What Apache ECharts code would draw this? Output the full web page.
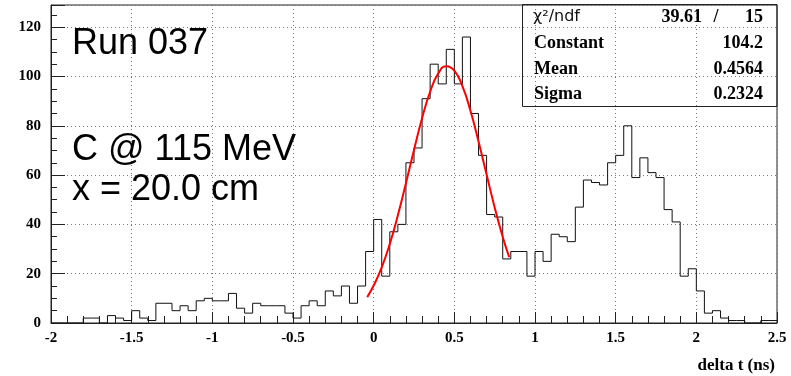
<!DOCTYPE html>
<html>
<head>
<meta charset="utf-8">
<script src="https://cdn.jsdelivr.net/npm/echarts@6/dist/echarts.min.js"></script>
<style>
  html, body { margin: 0; padding: 0; background: #fff; }
  #chart { width: 791px; height: 376px; }
</style>
</head>
<body>
<div id="chart"></div>
<script>
// histogram definition: 90 bins of 0.05 ns from -2 to 2.5
const histMin = -2;
const histMax = 2.5;
const binWidth = 0.05;

// counts per bin (left to right)
const counts = [
  0, 0, 0, 0, 2, 2, 0, 3, 2, 1,
  5, 2, 1, 8, 8, 5, 7, 5, 9, 10,
  9, 9, 12, 6, 4, 8, 7, 7, 7, 4,
  2, 7, 9, 7, 13, 11, 15, 8, 15, 29,
  42, 19, 37, 40, 65, 71, 91, 105, 97, 111,
  97, 116, 85, 68, 44, 43, 26, 29, 29, 19,
  29, 25, 36, 35, 33, 47, 58, 57, 56, 65,
  68, 80, 59, 67, 61, 59, 46, 41, 19, 22,
  13, 4, 5, 2, 1, 1, 0, 0, 1, 1
];

// gaussian fit curve
const fitX = [-0.04, 0.0, 0.05, 0.1, 0.15, 0.2, 0.25, 0.3, 0.35, 0.4, 0.45, 0.5, 0.55, 0.6, 0.65, 0.7, 0.75, 0.8, 0.84];
const fitY = [10.5, 15.2, 22.6, 32.1, 43.7, 56.7, 70.2, 83.1, 93.8, 101.2, 104.2, 102.4, 96.1, 86.1, 73.6, 60.2, 46.9, 34.9, 26.7];

const statNames = ['Constant', 'Mean', 'Sigma'];
const statValues = ['104.2', '0.4564', '0.2324'];
const chi2 = '39.61';
const ndf = '15';

const labelLines = ['Run 037', 'C @ 115 MeV', 'x = 20.0 cm'];

const histData = counts.map((c, i) => [histMin + i * binWidth, c]);
histData.push([histMax, counts[counts.length - 1]]);
const fitData = fitX.map((x, i) => [x, fitY[i]]);

const serif = 'Liberation Serif';
const sans = 'Liberation Sans';

const chart = echarts.init(document.getElementById('chart'));

const gridLine = { show: true, lineStyle: { type: [1, 3], color: '#777', width: 1 } };
const statRowY = [43, 69, 94];

const option = {
  animation: false,
  grid: {
    left: 51, right: 14, top: 5, bottom: 53,
    show: true, borderColor: '#222', borderWidth: 1
  },
  xAxis: {
    type: 'value',
    min: histMin,
    max: histMax,
    interval: 0.5,
    axisLine: { onZero: false, lineStyle: { color: '#222' } },
    axisTick: { inside: true, length: 11, lineStyle: { color: '#222' } },
    minorTick: { show: true, splitNumber: 5, length: 7, lineStyle: { color: '#222' } },
    splitLine: gridLine,
    axisLabel: {
      color: '#000', fontFamily: serif, fontWeight: 'bold', fontSize: 15, margin: 8
    }
  },
  yAxis: {
    type: 'value',
    min: 0,
    max: 129,
    interval: 20,
    axisLine: { show: true, onZero: false, lineStyle: { color: '#222' } },
    axisTick: { show: true, inside: true, length: 14, lineStyle: { color: '#222' } },
    minorTick: { show: true, splitNumber: 4, length: 6, lineStyle: { color: '#222' } },
    splitLine: gridLine,
    axisLabel: {
      color: '#000', fontFamily: serif, fontWeight: 'bold', fontSize: 15, margin: 10,
      showMaxLabel: false
    }
  },
  series: [
    {
      name: 'histogram',
      type: 'line',
      step: 'end',
      data: histData,
      showSymbol: false,
      lineStyle: { color: '#111', width: 1 },
      z: 2
    },
    {
      name: 'fit',
      type: 'line',
      data: fitData,
      smooth: true,
      showSymbol: false,
      lineStyle: { color: '#ff0000', width: 2 },
      z: 3
    }
  ],
  graphic: [
    // stats box
    {
      type: 'rect',
      shape: { x: 522.5, y: 4.5, width: 254.5, height: 102 },
      style: { fill: null, stroke: '#222', lineWidth: 1 },
      z: 10
    },
    {
      type: 'text', x: 533, y: 17,
      style: { text: 'χ²/ndf', fontFamily: 'DejaVu Sans', fontSize: 16, fill: '#111', align: 'left', verticalAlign: 'middle' },
      z: 10
    },
    {
      type: 'text', x: 702, y: 17,
      style: { text: chi2, fontFamily: serif, fontWeight: 'bold', fontSize: 18, fill: '#000', align: 'right', verticalAlign: 'middle' },
      z: 10
    },
    {
      type: 'text', x: 716, y: 17,
      style: { text: '/', fontFamily: serif, fontWeight: 'bold', fontSize: 18, fill: '#000', align: 'center', verticalAlign: 'middle' },
      z: 10
    },
    {
      type: 'text', x: 763, y: 17,
      style: { text: ndf, fontFamily: serif, fontWeight: 'bold', fontSize: 18, fill: '#000', align: 'right', verticalAlign: 'middle' },
      z: 10
    },
    ...statNames.map((n, i) => ({
      type: 'text', x: 534, y: statRowY[i],
      style: { text: n, fontFamily: serif, fontWeight: 'bold', fontSize: 18, fill: '#000', align: 'left', verticalAlign: 'middle' },
      z: 10
    })),
    ...statValues.map((v, i) => ({
      type: 'text', x: 763, y: statRowY[i],
      style: { text: v, fontFamily: serif, fontWeight: 'bold', fontSize: 18, fill: '#000', align: 'right', verticalAlign: 'middle' },
      z: 10
    })),
    // annotations on the left
    ...labelLines.map((t, i) => ({
      type: 'text', x: 72, y: [44, 150, 190][i],
      style: { text: t, fontFamily: sans, fontSize: 36, fill: '#000', align: 'left', verticalAlign: 'middle' },
      z: 10
    })),
    // axis title
    {
      type: 'text', x: 775, y: 366,
      style: { text: 'delta t (ns)', fontFamily: serif, fontWeight: 'bold', fontSize: 17, fill: '#000', align: 'right', verticalAlign: 'middle' },
      z: 10
    }
  ]
};

chart.setOption(option);
</script>
</body>
</html>
